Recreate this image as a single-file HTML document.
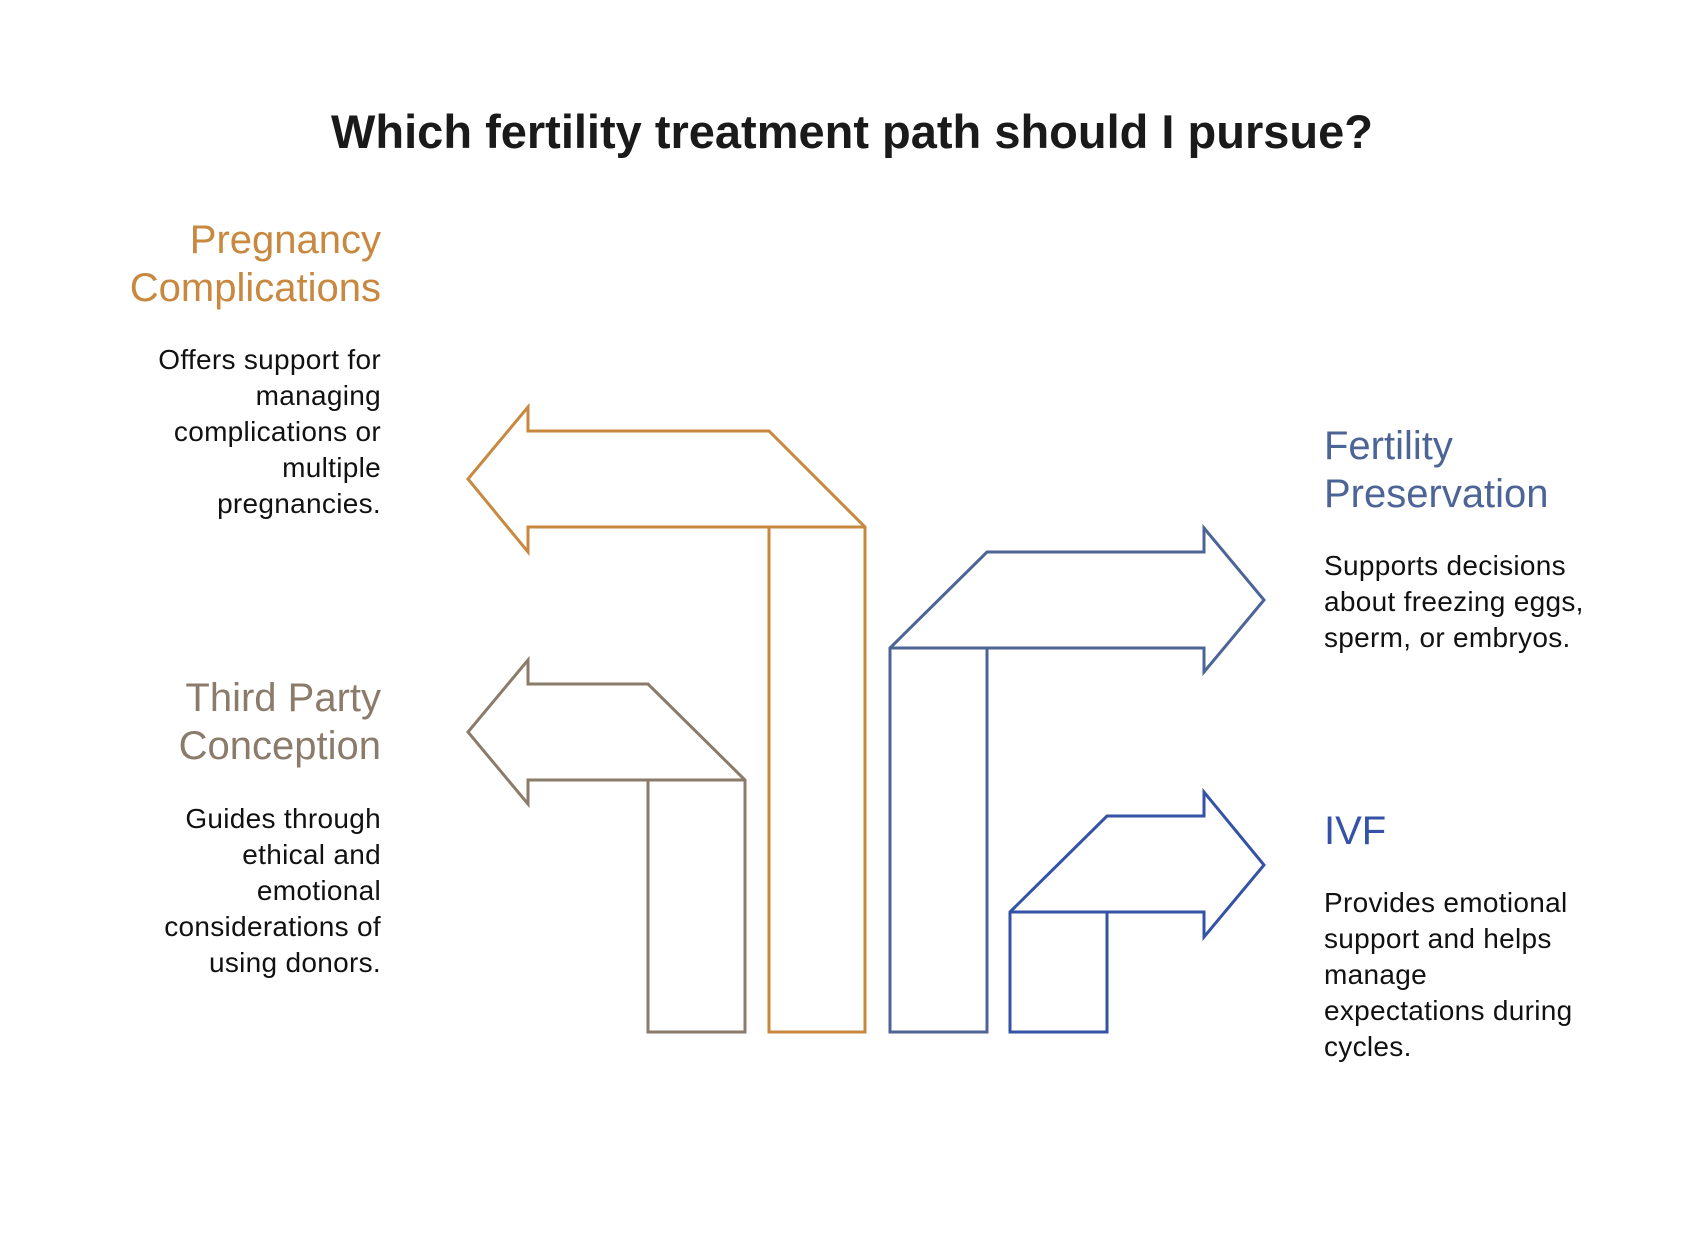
<!DOCTYPE html>
<html><head><meta charset="utf-8"><style>
body{margin:0;width:1704px;height:1248px;background:#fff;position:relative;font-family:"Liberation Sans",sans-serif;overflow:hidden}
.t{position:absolute;white-space:nowrap}
.h{font-size:40px;line-height:48px}
.d{font-size:28px;line-height:36px;color:#111;letter-spacing:0.3px}
.r{text-align:right;right:1323px}
.l{left:1324px}
</style></head><body>
<div class="t" style="left:0;width:1704px;text-align:center;top:106px;font-size:47px;font-weight:bold;color:#1a1a1a;line-height:52px">Which fertility treatment path should I pursue?</div>
<svg width="1704" height="1248" style="position:absolute;left:0;top:0" fill="none" stroke-width="3" stroke-linejoin="miter">
<g transform="translate(-3,-3)">
<polygon stroke="#C8883F" points="471,482 531,410 531,434 772,434 868,530 868,1035 772,1035 772,530 531,530 531,555"/>
<line x1="772" y1="530" x2="868" y2="530" stroke="#C8883F"/>
<polygon stroke="#8B7B6B" points="471,735 531,663 531,687 651,687 748,783 748,1035 651,1035 651,783 531,783 531,807"/>
<line x1="651" y1="783" x2="748" y2="783" stroke="#8B7B6B"/>
<polygon stroke="#4C6496" points="893,651 990,555 1207,555 1207,531 1267,603 1207,675 1207,651 990,651 990,1035 893,1035"/>
<line x1="893" y1="651" x2="990" y2="651" stroke="#4C6496"/>
<polygon stroke="#3553A6" points="1013,915 1110,819 1207,819 1207,795 1267,868 1207,940 1207,915 1110,915 1110,1035 1013,1035"/>
<line x1="1013" y1="915" x2="1110" y2="915" stroke="#3553A6"/>
</g>
</svg>
<div class="t h r" style="top:216px;color:#C8883F">Pregnancy<br>Complications</div>
<div class="t d r" style="top:342px">Offers support for<br>managing<br>complications or<br>multiple<br>pregnancies.</div>
<div class="t h r" style="top:674px;color:#8B7B6B">Third Party<br>Conception</div>
<div class="t d r" style="top:801px">Guides through<br>ethical and<br>emotional<br>considerations of<br>using donors.</div>
<div class="t h l" style="top:422px;color:#4C6496">Fertility<br>Preservation</div>
<div class="t d l" style="top:548px">Supports decisions<br>about freezing eggs,<br>sperm, or embryos.</div>
<div class="t h l" style="top:807px;color:#3553A6">IVF</div>
<div class="t d l" style="top:885px">Provides emotional<br>support and helps<br>manage<br>expectations during<br>cycles.</div>
</body></html>
